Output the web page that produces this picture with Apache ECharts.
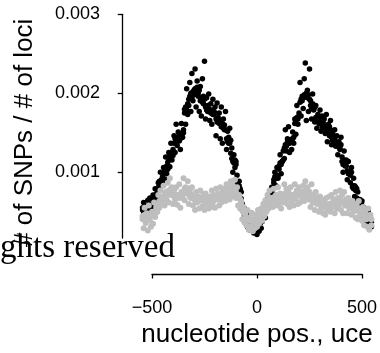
<!DOCTYPE html>
<html>
<head>
<meta charset="utf-8">
<style>html,body{margin:0;padding:0;background:#fff;}#c{width:380px;height:353px;}</style>
<script src="https://cdn.jsdelivr.net/npm/echarts@6/dist/echarts.min.js"></script>
</head>
<body>
<div id="c"></div>
<script>
// nucleotide positions relative to uce
const positions = [
-545,-540,-535,-530,-525,-520,-515,-510,-505,-500,
-495,-490,-485,-480,-475,-470,-465,-460,-455,-450,
-445,-440,-435,-430,-425,-420,-415,-410,-405,-400,
-395,-390,-385,-380,-375,-370,-365,-360,-355,-350,
-345,-340,-335,-330,-325,-320,-315,-310,-305,-300,
-295,-290,-285,-280,-275,-270,-265,-260,-255,-250,
-245,-240,-235,-230,-225,-220,-215,-210,-205,-200,
-195,-190,-185,-180,-175,-170,-165,-160,-155,-150,
-145,-140,-135,-130,-125,-120,-115,-110,-105,-100,
-95,-90,-85,-80,-75,-70,-65,-60,-55,-50,
-45,-40,-35,-30,-25,-20,-15,-10,-5,0,
5,10,15,20,25,30,35,40,45,50,
55,60,65,70,75,80,85,90,95,100,
105,110,115,120,125,130,135,140,145,150,
155,160,165,170,175,180,185,190,195,200,
205,210,215,220,225,230,235,240,245,250,
255,260,265,270,275,280,285,290,295,300,
305,310,315,320,325,330,335,340,345,350,
355,360,365,370,375,380,385,390,395,400,
405,410,415,420,425,430,435,440,445,450,
455,460,465,470,475,480,485,490,495,500,
505,510,515,520,525,530,535,540,545
];
// SNPs per locus, black series, band edges (units of 1e-3)
const blackE3 = [
0.42,0.52,0.33,0.47,0.38,0.55,0.40,0.58,0.36,0.49,
0.62,0.47,0.70,0.54,0.66,0.78,0.68,0.92,0.74,0.86,
0.98,0.83,1.12,0.90,1.05,1.18,0.99,1.30,1.08,1.22,
1.40,1.18,1.55,1.27,1.45,1.33,1.22,1.56,1.38,1.48,
1.75,1.55,2.02,1.68,1.88,2.10,1.72,2.22,1.86,2.00,
2.28,1.78,2.12,1.92,1.72,2.05,1.66,2.15,1.82,2.38,
1.62,1.90,1.72,1.95,1.60,1.82,1.55,1.88,1.68,1.78,
1.40,1.83,1.58,1.70,1.36,1.78,1.30,1.62,1.48,1.72,
1.22,1.46,1.30,1.50,1.17,1.24,0.92,1.15,0.98,1.06,
0.88,0.62,0.80,0.68,0.57,0.50,0.30,0.44,0.26,0.38,
0.20,0.34,0.16,0.28,0.38,0.22,0.12,0.30,0.15,0.10,
0.24,0.14,0.33,0.18,0.27,0.38,0.50,0.32,0.44,0.53,
0.58,0.66,0.60,0.72,0.64,0.78,0.92,0.74,0.98,0.84,
0.96,1.15,0.90,1.06,1.20,1.10,1.48,1.20,1.36,1.52,
1.18,1.35,1.22,1.45,1.30,1.62,1.42,1.80,1.55,1.70,
2.10,1.66,1.92,1.76,2.15,2.36,1.60,2.00,1.72,2.28,
1.86,1.62,1.95,1.75,1.58,1.80,1.50,1.68,1.56,1.74,
1.46,1.66,1.52,1.62,1.43,1.68,1.32,1.55,1.40,1.60,
1.28,1.45,1.35,1.48,1.26,1.40,1.15,1.32,1.22,1.38,
1.12,0.92,1.20,1.00,1.08,0.82,1.06,0.90,0.78,0.98,
0.74,0.84,0.60,0.72,0.58,0.66,0.42,0.55,0.38,0.48,
0.30,0.45,0.22,0.36,0.26,0.40,0.18,0.30,0.20
];
// SNPs per locus, black series, band centre (units of 1e-3)
const blackMidE3 = [
0.45,0.40,0.48,0.43,0.46,0.41,0.47,0.44,0.50,0.45,
0.55,0.60,0.57,0.63,0.60,0.72,0.80,0.76,0.82,0.78,
0.92,0.97,0.94,1.00,0.96,1.08,1.14,1.12,1.18,1.14,
1.30,1.36,1.32,1.38,1.34,1.40,1.36,1.42,1.38,1.44,
1.70,1.78,1.74,1.82,1.80,1.92,1.96,1.90,1.98,1.94,
2.02,1.98,2.04,1.96,2.00,1.86,1.90,1.84,1.92,1.88,
1.78,1.74,1.80,1.76,1.72,1.70,1.74,1.68,1.72,1.70,
1.62,1.58,1.64,1.56,1.60,1.52,1.56,1.50,1.54,1.48,
1.36,1.32,1.38,1.30,1.34,1.10,1.06,1.04,1.08,1.02,
0.76,0.72,0.74,0.70,0.66,0.42,0.40,0.36,0.42,0.38,
0.30,0.26,0.30,0.24,0.28,0.22,0.25,0.20,0.23,0.18,
0.22,0.26,0.24,0.28,0.30,0.40,0.44,0.42,0.46,0.56,
0.62,0.64,0.68,0.66,0.70,0.82,0.86,0.84,0.88,0.86,
1.00,1.04,1.02,1.06,1.08,1.24,1.28,1.26,1.32,1.30,
1.30,1.34,1.32,1.36,1.38,1.56,1.60,1.64,1.62,1.66,
1.84,1.88,1.86,1.90,1.94,1.92,1.96,1.90,1.94,1.88,
1.80,1.76,1.82,1.74,1.78,1.64,1.60,1.62,1.58,1.64,
1.56,1.52,1.58,1.54,1.50,1.48,1.50,1.46,1.52,1.48,
1.38,1.34,1.40,1.36,1.32,1.28,1.26,1.30,1.24,1.28,
1.06,1.02,1.08,1.04,1.00,0.94,0.90,0.92,0.88,0.92,
0.72,0.70,0.74,0.68,0.70,0.54,0.52,0.56,0.50,0.54,
0.36,0.34,0.38,0.32,0.35,0.30,0.28,0.32,0.26
];
// SNPs per locus, gray series, band edges (units of 1e-3)
const grayE3 = [
0.30,0.18,0.45,0.25,0.38,0.15,0.48,0.28,0.20,0.40,
0.24,0.52,0.33,0.46,0.40,0.62,0.45,0.68,0.52,0.58,
0.74,0.48,0.66,0.55,0.78,0.52,0.84,0.62,0.72,0.50,
0.68,0.56,0.72,0.49,0.62,0.76,0.45,0.66,0.58,0.84,
0.55,0.72,0.64,0.80,0.50,0.68,0.58,0.72,0.48,0.62,
0.42,0.66,0.52,0.60,0.44,0.68,0.55,0.47,0.62,0.42,
0.64,0.50,0.58,0.44,0.60,0.46,0.68,0.52,0.62,0.45,
0.70,0.56,0.64,0.48,0.72,0.52,0.66,0.58,0.70,0.54,
0.76,0.62,0.72,0.56,0.80,0.60,0.74,0.64,0.82,0.58,
0.72,0.48,0.62,0.44,0.54,0.30,0.46,0.26,0.40,0.22,
0.42,0.16,0.32,0.20,0.38,0.14,0.30,0.18,0.36,0.20,
0.42,0.24,0.34,0.44,0.28,0.50,0.34,0.55,0.40,0.62,
0.44,0.68,0.50,0.58,0.46,0.70,0.54,0.62,0.48,0.72,
0.50,0.64,0.44,0.60,0.52,0.76,0.56,0.70,0.50,0.66,
0.46,0.72,0.54,0.62,0.48,0.76,0.56,0.68,0.50,0.72,
0.52,0.66,0.58,0.74,0.54,0.80,0.60,0.72,0.56,0.66,
0.46,0.76,0.52,0.62,0.42,0.66,0.50,0.58,0.40,0.60,
0.44,0.56,0.38,0.52,0.36,0.58,0.42,0.50,0.60,0.40,
0.62,0.46,0.56,0.38,0.66,0.44,0.58,0.48,0.68,0.42,
0.62,0.38,0.66,0.48,0.56,0.38,0.58,0.44,0.52,0.36,
0.54,0.40,0.50,0.32,0.48,0.30,0.54,0.36,0.44,0.28,
0.46,0.22,0.40,0.30,0.20,0.44,0.16,0.36,0.22
];
// SNPs per locus, gray series, band centre (units of 1e-3)
const grayMidE3 = [
0.34,0.30,0.36,0.32,0.35,0.31,0.34,0.33,0.36,0.38,
0.36,0.40,0.38,0.42,0.40,0.50,0.54,0.52,0.55,0.58,
0.60,0.62,0.58,0.61,0.64,0.68,0.66,0.70,0.67,0.62,
0.60,0.58,0.62,0.59,0.61,0.58,0.62,0.60,0.63,0.66,
0.70,0.68,0.71,0.67,0.64,0.60,0.62,0.58,0.61,0.57,
0.55,0.53,0.57,0.54,0.56,0.55,0.58,0.56,0.54,0.53,
0.52,0.54,0.51,0.53,0.56,0.55,0.57,0.54,0.58,0.56,
0.58,0.60,0.57,0.59,0.60,0.61,0.59,0.62,0.60,0.63,
0.64,0.66,0.65,0.68,0.67,0.70,0.68,0.71,0.69,0.66,
0.62,0.60,0.58,0.56,0.50,0.42,0.40,0.38,0.36,0.32,
0.30,0.29,0.31,0.28,0.27,0.26,0.27,0.25,0.28,0.27,
0.30,0.32,0.33,0.35,0.38,0.42,0.44,0.46,0.48,0.52,
0.54,0.56,0.55,0.57,0.58,0.59,0.57,0.60,0.58,0.59,
0.58,0.57,0.59,0.58,0.62,0.63,0.64,0.62,0.65,0.62,
0.59,0.57,0.60,0.58,0.61,0.63,0.64,0.62,0.65,0.63,
0.62,0.61,0.63,0.62,0.66,0.68,0.66,0.69,0.67,0.65,
0.62,0.60,0.61,0.58,0.56,0.55,0.53,0.54,0.52,0.50,
0.50,0.48,0.49,0.47,0.46,0.48,0.47,0.49,0.46,0.48,
0.50,0.52,0.49,0.51,0.53,0.55,0.54,0.56,0.53,0.55,
0.53,0.51,0.52,0.50,0.49,0.48,0.47,0.49,0.46,0.48,
0.45,0.43,0.44,0.42,0.44,0.43,0.41,0.42,0.40,0.38,
0.36,0.34,0.35,0.33,0.34,0.32,0.31,0.33,0.30
];
const xTicks = [-500, 0, 500];
const xTickLabels = ['\u2212500', '0', '500'];
const yTicks = [0.001, 0.002, 0.003];
const yTickLabels = ['0.001', '0.002', '0.003'];
const xTitle = 'nucleotide pos., uce';
const yTitle = '# of SNPs / # of loci';
const noteText = 'All rights reserved';

const FONT = '"Liberation Sans", Arial, sans-serif';
const toPoints = (vals) => positions.map((x, i) => [x, vals[i] * 1e-3]);
const blackData = toPoints(blackE3).concat(toPoints(blackMidE3));
const grayData = toPoints(grayE3).concat(toPoints(grayMidE3));

const chart = echarts.init(document.getElementById('c'), null, {renderer: 'canvas'});
const axisLineStyle = {color: '#000', width: 1.3};
chart.setOption({
  animation: false,
  backgroundColor: '#fff',
  grid: [
    {left: 152, right: 18, top: 14.3, height: 237},
    {left: 122.7, width: 1, top: 14.3, height: 237},
    {left: 122.7, width: 1, top: 14.3, height: 223.7}
  ],
  xAxis: [
    {
      gridIndex: 0, type: 'value', min: -500, max: 500, interval: 500,
      offset: 32,
      axisLine: {show: true, onZero: false, lineStyle: axisLineStyle},
      axisTick: {show: true, length: 4.5, inside: false, lineStyle: axisLineStyle, customValues: xTicks},
      axisLabel: {
        customValues: xTicks,
        formatter: v => xTickLabels[xTicks.indexOf(v)],
        fontSize: 18, color: '#000', fontFamily: FONT, margin: 25
      },
      splitLine: {show: false},
      name: xTitle, nameLocation: 'middle', nameGap: 48,
      nameTextStyle: {fontSize: 26, color: '#000', fontFamily: FONT}
    },
    {gridIndex: 1, type: 'value', show: false},
    {gridIndex: 2, type: 'value', show: false}
  ],
  yAxis: [
    {gridIndex: 0, type: 'value', min: 0, max: 0.003, show: false},
    {
      gridIndex: 1, type: 'value', min: 0, max: 0.003, interval: 0.001,
      axisLine: {show: false},
      axisTick: {show: true, length: 5, lineStyle: axisLineStyle, customValues: yTicks},
      axisLabel: {
        customValues: yTicks,
        formatter: v => yTickLabels[yTicks.findIndex(t => Math.abs(t - v) < 1e-9)],
        fontSize: 18, color: '#000', fontFamily: FONT, margin: 22.7
      },
      splitLine: {show: false},
      name: yTitle, nameLocation: 'middle', nameRotate: 90, nameGap: 85,
      nameTextStyle: {fontSize: 26, color: '#000', fontFamily: FONT}
    },
    {
      gridIndex: 2, type: 'value',
      axisLine: {show: true, onZero: false, lineStyle: axisLineStyle},
      axisTick: {show: false}, axisLabel: {show: false}, splitLine: {show: false}
    }
  ],
  graphic: [{
    type: 'text', x: 175, y: 248, z: 1,
    style: {
      text: noteText, align: 'right', textAlign: 'right',
      verticalAlign: 'middle', textVerticalAlign: 'middle',
      font: '33px "Liberation Serif", "Times New Roman", serif', fill: '#000'
    }
  }],
  series: [
    {
      type: 'scatter', xAxisIndex: 0, yAxisIndex: 0, data: blackData,
      symbol: 'circle', symbolSize: 5.5, clip: false, z: 2,
      itemStyle: {color: '#000', opacity: 1}
    },
    {
      type: 'scatter', xAxisIndex: 0, yAxisIndex: 0, data: grayData,
      symbol: 'circle', symbolSize: 6, clip: false, z: 3,
      itemStyle: {color: '#bebebe', opacity: 1}
    }
  ]
});
</script>
</body>
</html>
